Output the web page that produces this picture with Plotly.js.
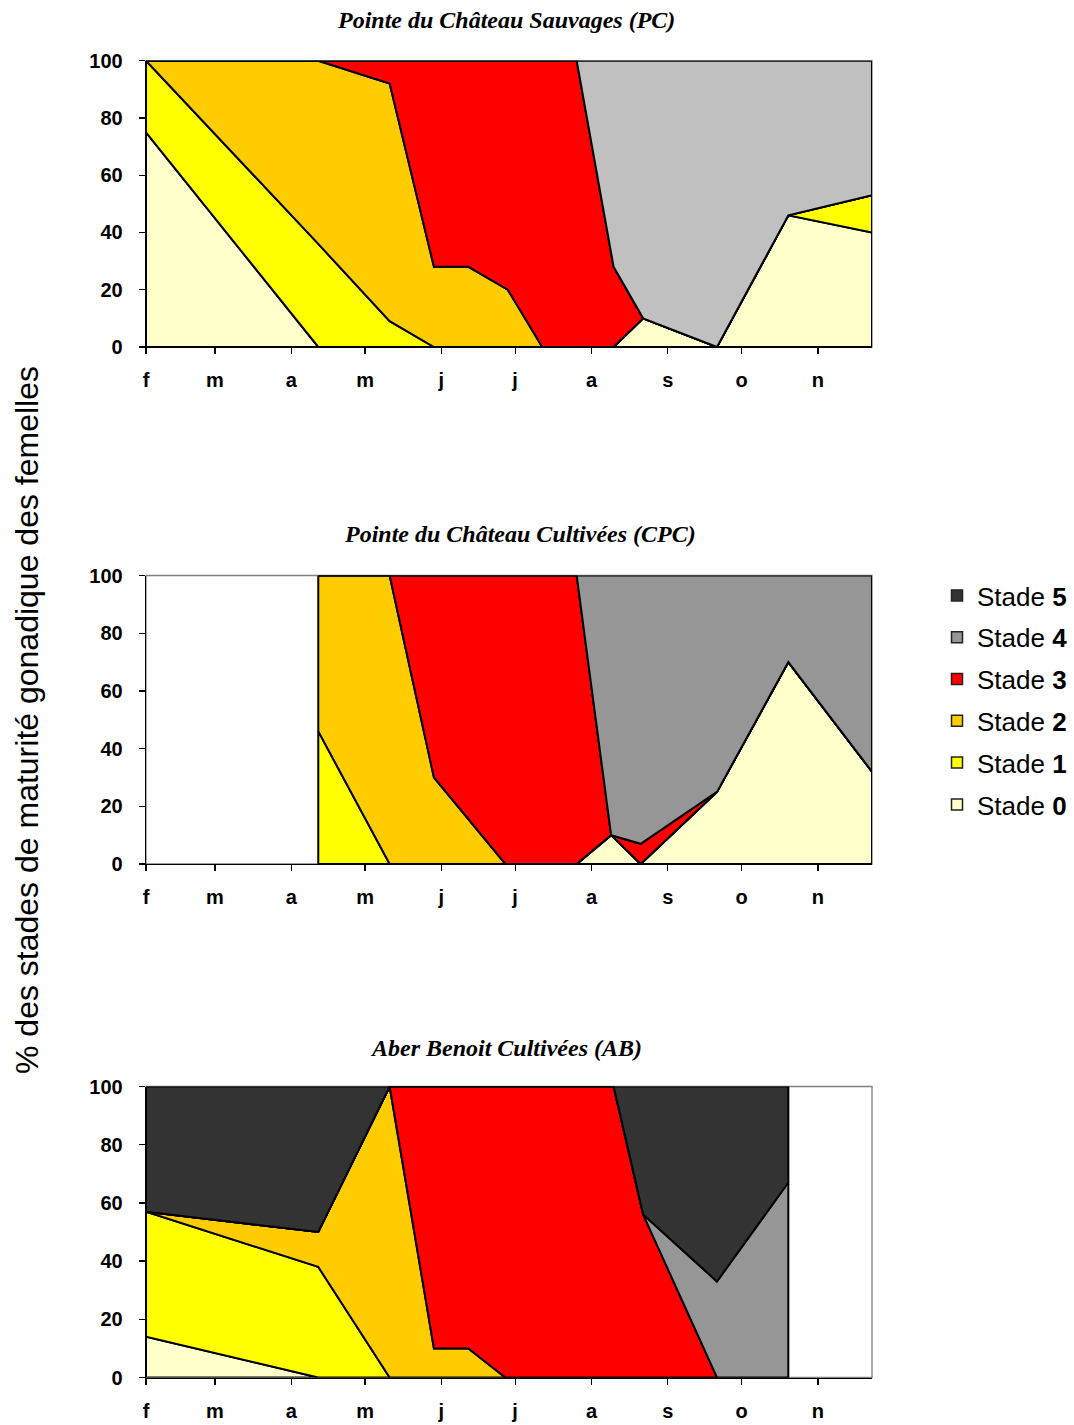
<!DOCTYPE html>
<html><head><meta charset="utf-8">
<script src="https://cdn.plot.ly/plotly-3.0.1.min.js"></script>
<style>body{margin:0;background:#fff}</style>
</head><body><div id="chart" style="width:1074px;height:1425px"></div>
<script>
// ---------- DATA ----------
const stageNames = ['Stade 0','Stade 1','Stade 2','Stade 3','Stade 4','Stade 5'];
const legendLabels = ['Stade <b>0</b>','Stade <b>1</b>','Stade <b>2</b>','Stade <b>3</b>','Stade <b>4</b>','Stade <b>5</b>'];
const monthTicks = ['2005-02-01','2005-03-01','2005-04-01','2005-05-01','2005-06-01','2005-07-01','2005-08-01','2005-09-01','2005-10-01','2005-11-01'];
const monthLabels = ['f','m','a','m','j','j','a','s','o','n'];
const yTicks = [0,20,40,60,80,100];
const yAxisTitle = '% des stades de maturité gonadique des femelles';

// Pointe du Château Sauvages (PC)
const pcTitle = 'Pointe du Château Sauvages (PC)';
const pcDates = ['2005-02-01','2005-04-12','2005-05-11','2005-05-29','2005-06-12','2005-06-28','2005-07-12','2005-07-26','2005-08-10','2005-08-22','2005-09-21','2005-10-20','2005-11-23'];
const pcS0 = [75, 0, 0, 0, 0, 0,  0,  0,  0, 10,   0, 46, 40];
const pcS1 = [25,36, 9, 0, 0, 0,  0,  0,  0,  0,   0,  0, 13];
const pcS2 = [ 0,64,83,28,28,20,  0,  0,  0,  0,   0,  0,  0];
const pcS3 = [ 0, 0, 8,72,72,80,100,100, 28,  0,   0,  0,  0];
const pcS4 = [ 0, 0, 0, 0, 0, 0,  0,  0, 72, 90, 100, 54, 47];

// Pointe du Château Cultivées (CPC)
const cpcTitle = 'Pointe du Château Cultivées (CPC)';
const cpcDates = ['2005-04-12','2005-05-11','2005-05-29','2005-06-27','2005-07-26','2005-08-09','2005-08-21','2005-09-21','2005-10-20','2005-11-23'];
const cpcS0 = [ 0,  0, 0,  0,  0, 10,  0, 25, 70, 32];
const cpcS1 = [46,  0, 0,  0,  0,  0,  0,  0,  0,  0];
const cpcS2 = [54,100,30,  0,  0,  0,  0,  0,  0,  0];
const cpcS3 = [ 0,  0,70,100,100,  0,  7,  0,  0,  0];
const cpcS4 = [ 0,  0, 0,  0,  0, 90, 93, 75, 30, 68];

// Aber Benoit Cultivées (AB)
const abTitle = 'Aber Benoit Cultivées (AB)';
const abDates = ['2005-02-01','2005-04-12','2005-05-11','2005-05-29','2005-06-12','2005-06-27','2005-08-10','2005-08-22','2005-09-21','2005-10-20'];
const abS0 = [14, 0,  0, 0, 0,  0,  0,  0,  0,  0];
const abS1 = [43,38,  0, 0, 0,  0,  0,  0,  0,  0];
const abS2 = [ 0,12,100,10,10,  0,  0,  0,  0,  0];
const abS3 = [ 0, 0,  0,90,90,100,100, 56,  0,  0];
const abS4 = [ 0, 0,  0, 0, 0,  0,  0,  0, 33, 67];
const abS5 = [43,50,  0, 0, 0,  0,  0, 44, 67, 33];

// ---------- STYLE ----------
const colStage = ['#FFFFCC','#FFFF00','#FFCC00','#FF0000','#969696','#333333'];
const pcColStage4 = '#C0C0C0';

const W = 1074, H = 1425;
const xDomain = [146/W, 872/W];
const yDomains = [[1-347/H, 1-60.7/H],[1-864/H, 1-575.5/H],[1-1377.5/H, 1-1086.5/H]];

const allDates = pcDates.concat(cpcDates, abDates).slice().sort();
const xMin = allDates[0], xMax = allDates[allDates.length-1];

function areaTraces(dates, series, colors, ax){
  const traces = [];
  let bottom = dates.map(()=>0);
  series.forEach((s, k)=>{
    const top = bottom.map((b,i)=>b + s[i]);
    const xs = dates.concat(dates.slice().reverse(), [dates[0]]);
    const ys = top.concat(bottom.slice().reverse(), [top[0]]);
    traces.push({
      type:'scatter', mode:'lines', x:xs, y:ys, fill:'toself',
      fillcolor: colors[k], line:{color:'#000', width:2},
      xaxis:'x'+ax, yaxis:'y'+ax, showlegend:false, hoverinfo:'skip', name: stageNames[k]
    });
    bottom = top;
  });
  return traces;
}

let data = [];
data = data.concat(areaTraces(pcDates, [pcS0,pcS1,pcS2,pcS3,pcS4],
  [colStage[0],colStage[1],colStage[2],colStage[3],pcColStage4], ''));
data = data.concat(areaTraces(cpcDates, [cpcS0,cpcS1,cpcS2,cpcS3,cpcS4], colStage, '2'));
data = data.concat(areaTraces(abDates, [abS0,abS1,abS2,abS3,abS4,abS5], colStage, '3'));

// legend entries (Stade 5 at top)
for (let k = 5; k >= 0; k--) {
  data.push({type:'scatter', mode:'markers', x:[null], y:[null], xaxis:'x2', yaxis:'y2',
    name: legendLabels[k], legendgroup:'g'+k, showlegend:true,
    marker:{symbol:'square', size:11, color:colStage[k], line:{color:'#222', width:1.5}}});
}

const tickFont = {family:'Arial, "Liberation Sans", sans-serif', size:20, color:'#000', weight:'bold'};
function xAxis(anchor){
  return {type:'date', domain:xDomain, range:[xMin,xMax], anchor:anchor,
    tickmode:'array', tickvals:monthTicks, ticktext:monthLabels,
    ticks:'outside', ticklen:6, tickwidth:1.3, tickcolor:'#000',
    showline:true, linecolor:'#000', linewidth:1.3, showgrid:false, zeroline:false,
    tickfont:tickFont, ticklabelstandoff:9, fixedrange:true, automargin:false};
}
function yAxis(anchor, dom){
  return {domain:dom, range:[0,100], anchor:anchor, tickmode:'array', tickvals:yTicks,
    ticks:'outside', ticklen:6, tickwidth:1.3, tickcolor:'#000',
    showline:true, linecolor:'#000', linewidth:1.3, showgrid:false, zeroline:false,
    tickfont:tickFont, ticklabelstandoff:12, fixedrange:true, automargin:false};
}

const titleFont = {family:'"Liberation Serif", "Times New Roman", serif', size:24, color:'#000', weight:'bold', style:'italic'};
const frame = (ax)=>({type:'rect', xref:'x'+ax+' domain', yref:'y'+ax+' domain', x0:0, x1:1, y0:0, y1:1,
  line:{color:'#808080', width:1.3}, layer:'below'});

const layout = {
  width:W, height:H, margin:{l:0,r:0,t:0,b:0,autoexpand:false},
  paper_bgcolor:'#fff', plot_bgcolor:'rgba(0,0,0,0)',
  xaxis:xAxis('y'), yaxis:yAxis('x', yDomains[0]),
  xaxis2:xAxis('y2'), yaxis2:yAxis('x2', yDomains[1]),
  xaxis3:xAxis('y3'), yaxis3:yAxis('x3', yDomains[2]),
  shapes:[frame(''), frame('2'), frame('3')],
  legend:{x:937/W, y:1-572/H, xanchor:'left', yanchor:'top', bgcolor:'rgba(0,0,0,0)',
    font:{family:'Arial, "Liberation Sans", sans-serif', size:26, color:'#000'},
    tracegroupgap:5, traceorder:'grouped'},
  annotations:[
    {text:pcTitle, xref:'paper', yref:'paper', x:506/W, y:1-20/H, xanchor:'center', yanchor:'middle', showarrow:false, font:titleFont},
    {text:cpcTitle, xref:'paper', yref:'paper', x:520/W, y:1-534/H, xanchor:'center', yanchor:'middle', showarrow:false, font:titleFont},
    {text:abTitle, xref:'paper', yref:'paper', x:506/W, y:1-1048/H, xanchor:'center', yanchor:'middle', showarrow:false, font:titleFont},
    {text:yAxisTitle, xref:'paper', yref:'paper', x:27/W, y:1-720/H, xanchor:'center', yanchor:'middle', textangle:-90, showarrow:false,
      font:{family:'Arial, "Liberation Sans", sans-serif', size:32, color:'#000'}}
  ],
  showlegend:true
};

Plotly.newPlot('chart', data, layout, {staticPlot:true, displayModeBar:false});
</script>
</body></html>
